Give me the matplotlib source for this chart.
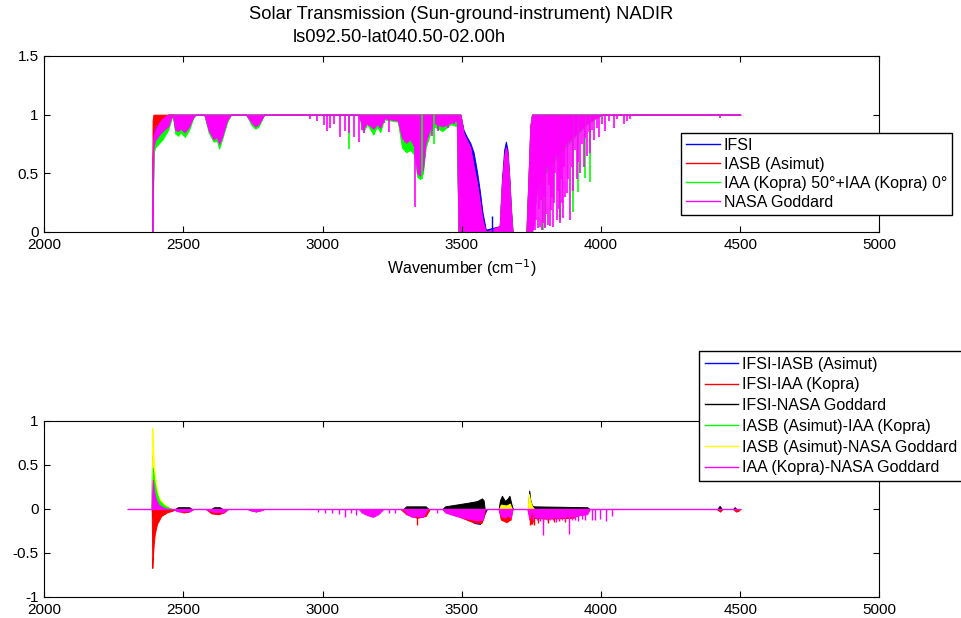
import numpy as np
import matplotlib
matplotlib.use("Agg")
import matplotlib.pyplot as plt

plt.rcParams['font.family'] = ['Liberation Sans', 'DejaVu Sans']

# ---- top panel: transmission, lower/upper edge of the dense line forest ----
top_wn = [2300, 2387, 2389, 2392, 2398, 2410, 2425, 2445, 2455, 2462,
          2470, 2480, 2490, 2505, 2520, 2535, 2545, 2575, 2590, 2608,
          2620, 2628, 2640, 2656, 2670, 2725, 2745, 2758, 2770, 2790,
          3130, 3145, 3160, 3182, 3195, 3207, 3220, 3270, 3285, 3300,
          3315, 3328, 3340, 3350, 3360, 3370, 3385, 3400, 3430, 3460,
          3482, 3488, 3495, 3506, 3518, 3530, 3542, 3554, 3564, 3574,
          3586, 3636, 3644, 3652, 3658, 3664, 3671, 3676, 3682, 3732,
          3740, 3746, 3752, 3770, 3800, 3850, 3900, 3950, 4000, 4500]

ifsi_lo = [0, 0, 0, 0.72, 0.8, 0.84, 0.88, 0.92, 0.97, 1,
           0.88, 0.87, 0.89, 0.86, 0.91, 0.98, 1, 1, 0.88, 0.8,
           0.82, 0.77, 0.83, 0.95, 1, 1, 0.94, 0.91, 0.93, 1,
           1, 0.88, 0.93, 0.88, 0.92, 0.89, 0.97, 0.95, 0.8, 0.77,
           0.8, 0.74, 0.51, 0.49, 0.54, 0.77, 0.88, 0.93, 0.9, 0.93,
           0.95, 0, 0, 0, 0, 0, 0, 0, 0, 0,
           0, 0, 0, 0, 0, 0, 0, 0, 0, 0,
           0, 0, 0, 0.4, 0.55, 0.7, 0.82, 0.93, 1, 1]
ifsi_hi = [0, 0, 0.62, 0.84, 0.88, 0.93, 0.97, 1, 1, 1,
           1, 1, 1, 1, 1, 1, 1, 1, 1, 1,
           1, 1, 1, 1, 1, 1, 1, 1, 1, 1,
           1, 1, 1, 1, 1, 1, 1, 1, 1, 1,
           1, 1, 1, 1, 1, 1, 1, 1, 1, 1,
           1, 1, 1, 0.87, 0.81, 0.76, 0.68, 0.52, 0.36, 0.17,
           0.02, 0.05, 0.45, 0.7, 0.77, 0.7, 0.45, 0.22, 0, 0,
           0.5, 0.9, 1, 1, 1, 1, 1, 1, 1, 1]

iasb_lo = [0, 0, 0, 0.86, 0.9, 0.93, 0.97, 1, 1, 1,
           0.88, 0.87, 0.89, 0.86, 0.91, 0.98, 1, 1, 0.88, 0.8,
           0.82, 0.77, 0.83, 0.95, 1, 1, 0.94, 0.91, 0.93, 1,
           1, 0.88, 0.93, 0.88, 0.92, 0.89, 0.97, 0.95, 0.8, 0.77,
           0.8, 0.74, 0.51, 0.49, 0.54, 0.77, 0.88, 0.93, 0.9, 0.93,
           0.95, 0, 0, 0, 0, 0, 0, 0, 0, 0,
           0, 0, 0, 0, 0, 0, 0, 0, 0, 0,
           0, 0, 0, 0.4, 0.55, 0.7, 0.82, 0.93, 1, 1]
iasb_hi = [0, 0, 0.95, 1, 1, 1, 1, 1, 1, 1,
           1, 1, 1, 1, 1, 1, 1, 1, 1, 1,
           1, 1, 1, 1, 1, 1, 1, 1, 1, 1,
           1, 1, 1, 1, 1, 1, 1, 1, 1, 1,
           1, 1, 1, 1, 1, 1, 1, 1, 1, 1,
           1, 1, 1, 0.84, 0.78, 0.72, 0.56, 0.42, 0.26, 0.1,
           0, 0.05, 0.41, 0.64, 0.72, 0.66, 0.41, 0.18, 0, 0,
           0.5, 0.9, 1, 1, 1, 1, 1, 1, 1, 1]

iaa_lo = [0, 0, 0, 0.66, 0.72, 0.75, 0.79, 0.87, 0.95, 1,
          0.84, 0.82, 0.85, 0.81, 0.87, 0.97, 1, 1, 0.85, 0.77,
          0.78, 0.71, 0.8, 0.93, 1, 1, 0.91, 0.88, 0.9, 1,
          1, 0.85, 0.92, 0.83, 0.9, 0.85, 0.96, 0.94, 0.72, 0.68,
          0.7, 0.66, 0.47, 0.45, 0.5, 0.72, 0.83, 0.9, 0.86, 0.92,
          0.9, 0, 0, 0, 0, 0, 0, 0, 0, 0,
          0, 0, 0, 0, 0, 0, 0, 0, 0, 0,
          0, 0, 0, 0.35, 0.5, 0.66, 0.8, 0.92, 1, 1]
iaa_hi = [0, 0, 0.5, 0.78, 0.82, 0.87, 0.92, 1, 1, 1,
          1, 1, 1, 1, 1, 1, 1, 1, 1, 1,
          1, 1, 1, 1, 1, 1, 1, 1, 1, 1,
          1, 1, 1, 1, 1, 1, 1, 1, 1, 1,
          1, 1, 1, 1, 1, 1, 1, 1, 1, 1,
          1, 1, 1, 0.82, 0.76, 0.7, 0.53, 0.38, 0.22, 0.07,
          0, 0.04, 0.38, 0.6, 0.69, 0.62, 0.38, 0.15, 0, 0,
          0.45, 0.88, 1, 1, 1, 1, 1, 1, 1, 1]

nasa_lo = [0, 0, 0, 0.72, 0.78, 0.82, 0.86, 0.9, 0.97, 1,
           0.87, 0.86, 0.88, 0.85, 0.9, 0.98, 1, 1, 0.87, 0.79,
           0.81, 0.75, 0.82, 0.95, 1, 1, 0.93, 0.9, 0.92, 1,
           1, 0.88, 0.93, 0.88, 0.92, 0.89, 0.97, 0.95, 0.8, 0.76,
           0.79, 0.73, 0.5, 0.48, 0.53, 0.76, 0.88, 0.93, 0.9, 0.93,
           0.95, 0, 0, 0, 0, 0, 0, 0, 0, 0,
           0, 0, 0, 0, 0, 0, 0, 0, 0, 0,
           0, 0, 0, 0.4, 0.55, 0.7, 0.82, 0.93, 1, 1]
nasa_hi = [0, 0, 0.55, 0.82, 0.87, 0.92, 0.97, 1, 1, 1,
           1, 1, 1, 1, 1, 1, 1, 1, 1, 1,
           1, 1, 1, 1, 1, 1, 1, 1, 1, 1,
           1, 1, 1, 1, 1, 1, 1, 1, 1, 1,
           1, 1, 1, 1, 1, 1, 1, 1, 1, 1,
           1, 1, 1, 0.84, 0.78, 0.72, 0.56, 0.42, 0.26, 0.1,
           0, 0.05, 0.41, 0.64, 0.72, 0.66, 0.41, 0.18, 0, 0,
           0.5, 0.9, 1, 1, 1, 1, 1, 1, 1, 1]

# single absorption lines (position, minimum transmission)
nasa_lines_wn = [2955, 2979, 3003, 3015, 3025, 3039, 3063, 3081, 3093, 3111,
                 3129, 3141, 3147, 3165, 3219, 3237, 3255, 3333, 3375, 3393,
                 3416, 3434, 3452, 3470,
                 3756, 3760, 3764, 3768, 3772, 3776, 3780, 3784, 3788, 3792,
                 3796, 3800, 3804, 3808, 3812, 3816, 3820, 3824, 3828, 3832,
                 3836, 3840, 3844, 3848, 3852, 3856, 3860, 3864, 3868, 3872,
                 3877, 3883, 3889, 3895, 3901, 3907, 3913, 3919, 3925, 3931,
                 3937, 3943, 3949, 3955, 3961, 3967, 3973, 3985, 3991, 4003,
                 4015, 4027, 4045, 4057, 4081, 4093, 4105, 4428]
nasa_lines_min = [0.96, 0.95, 0.91, 0.86, 0.89, 0.92, 0.81, 0.86, 0.84, 0.81,
                  0.77, 0.87, 0.84, 0.9, 0.93, 0.85, 0.95, 0.21, 0.84, 0.82,
                  0.86, 0.94, 0.89, 0.92,
                  0.02, 0.05, 0.02, 0.1, 0.03, 0.2, 0.04, 0.27, 0.02, 0.08,
                  0.3, 0.03, 0.15, 0.06, 0.4, 0.05, 0.19, 0.3, 0.04, 0.25,
                  0.5, 0.1, 0.35, 0.2, 0.08, 0.45, 0.25, 0.12, 0.55, 0.3,
                  0.33, 0.45, 0.1, 0.55, 0.35, 0.7, 0.45, 0.6, 0.5, 0.75,
                  0.55, 0.8, 0.65, 0.85, 0.67, 0.87, 0.78, 0.89, 0.81, 0.92,
                  0.86, 0.95, 0.89, 0.96, 0.92, 0.95, 0.96, 0.97]
iaa_lines_wn = [3093, 3357, 3399, 3791, 3800, 3853, 3901, 3919, 3943, 3961]
iaa_lines_min = [0.71, 0.45, 0.75, 0.02, 0.04, 0.1, 0.17, 0.34, 0.46, 0.43]
ifsi_lines_wn = [3608]
ifsi_lines_max = [0.14]

# ---- bottom panel: differences ----
bl_wn = [2300, 2386, 2388, 2390, 2395, 2410, 2430, 2450, 2460, 3480,
         3500, 3520, 3545, 3565, 3578, 3590, 4500]
bl_val = [0, 0, -0.10, -0.06, -0.04, -0.03, -0.03, -0.02, 0, 0,
          -0.05, -0.1, -0.16, -0.17, -0.08, 0, 0]

rd_wn = [2300, 2386, 2388, 2390, 2393, 2397, 2405, 2420, 2440, 2460,
         2475, 2480, 2500, 2520, 2535, 2580, 2600, 2625, 2645, 2660,
         2730, 2760, 2790, 3280, 3300, 3340, 3370, 3385, 3430, 3450,
         3500, 3540, 3570, 3578, 3584, 3632, 3640, 3660, 3675, 3682,
         3735, 3750, 3760, 3800, 3900, 3960, 4415, 4428, 4436, 4474,
         4485, 4494, 4500]
rd_val = [0, 0, -0.67, -0.55, -0.40, -0.28, -0.17, -0.08, -0.04, -0.02,
          0, -0.02, -0.04, -0.03, 0, 0, -0.05, -0.06, -0.04, 0,
          0, -0.03, 0, 0, -0.06, -0.1, -0.08, 0, 0, -0.04,
          -0.1, -0.15, -0.16, -0.1, 0, 0, -0.12, -0.15, -0.12, 0,
          0, -0.17, -0.1, -0.11, -0.1, 0, 0, -0.03, 0, 0,
          -0.03, -0.02, 0]
rd_lines_wn = [3338, 3745, 3752, 3760, 3775, 3790, 3810, 3830, 3850, 3870]
rd_lines_val = [-0.18, -0.18, -0.17, -0.18, -0.16, -0.15, -0.16, -0.15, -0.14, -0.15]

bk_wn = [2300, 2385, 2386, 2387, 2389, 2392, 2470, 2480, 2520, 2530,
         2600, 2610, 2630, 2640, 3290, 3300, 3370, 3380, 3430, 3440,
         3480, 3520, 3555, 3572, 3578, 3582, 3632, 3637, 3644, 3655,
         3665, 3671, 3680, 3684, 3738, 3742, 3746, 3752, 3760, 3950,
         3960, 4418, 4426, 4434, 4474, 4480, 4486, 4500]
bk_val = [0, 0, 0.2, 0.6, 0.3, 0, 0, 0.02, 0.02, 0,
          0, 0.02, 0.02, 0, 0, 0.03, 0.03, 0, 0, 0.03,
          0.05, 0.07, 0.09, 0.12, 0.1, 0, 0, 0.1, 0.15, 0.09,
          0.12, 0.15, 0.03, 0, 0, 0.21, 0.1, 0.04, 0.03, 0.02,
          0, 0, 0.035, 0, 0, 0.02, 0, 0]

gr_wn = [2300, 2386, 2388, 2390, 2395, 2402, 2412, 2430, 2450, 2460, 4500]
gr_val = [0, 0, 0.2, 0.47, 0.32, 0.2, 0.1, 0.04, 0.01, 0, 0]

yl_wn = [2300, 2386, 2387, 2388, 2390, 2393, 2397, 2403, 2410, 2420,
         2430, 2445, 2460, 3634, 3640, 3660, 3672, 3680, 3736, 3741,
         3745, 3752, 3760, 4500]
yl_val = [0, 0, 0.5, 0.92, 0.75, 0.55, 0.39, 0.25, 0.14, 0.09,
          0.06, 0.02, 0, 0, 0.05, 0.04, 0.06, 0, 0, 0.17,
          0.1, 0.03, 0, 0]

mg_wn = [2300, 2386, 2388, 2390, 2394, 2400, 2410, 2425, 2440, 2465,
         2475, 2490, 2505, 2520, 2535, 2580, 2595, 2610, 2625, 2640,
         2660, 2730, 2745, 2760, 2775, 2790, 3130, 3140, 3160, 3180,
         3200, 3218, 3290, 3300, 3320, 3340, 3360, 3376, 3430, 3440,
         3480, 3520, 3560, 3575, 3580, 3632, 3640, 3655, 3665, 3675,
         3682, 3736, 3742, 3748, 3755, 3760, 3800, 3850, 3900, 3950,
         3960, 4500]
mg_val = [0, 0, 0.2, 0.33, 0.2, 0.12, 0.05, 0.02, 0, 0,
          -0.025, -0.03, -0.02, -0.03, 0, 0, -0.02, -0.035, -0.03, -0.04,
          0, 0, -0.02, -0.025, -0.02, 0, 0, -0.04, -0.07, -0.09,
          -0.06, 0, 0, -0.05, -0.09, -0.08, -0.09, 0, 0, -0.04,
          -0.08, -0.11, -0.13, -0.12, 0, 0, -0.08, -0.1, -0.07, -0.1,
          0, 0, -0.12, -0.05, -0.02, -0.09, -0.1, -0.09, -0.08, -0.06,
          0, 0]
mg_lines_wn = [2985, 3010, 3035, 3060, 3080, 3100, 3120, 3240, 3260, 3410,
               3755, 3770, 3780, 3791, 3805, 3815, 3826, 3838, 3850, 3860,
               3870, 3886, 3896, 3906, 3918, 3930, 3943, 3967, 3979, 3997,
               4019, 4039]
mg_lines_val = [-0.03, -0.04, -0.05, -0.06, -0.09, -0.05, -0.07, -0.04, -0.05, -0.04,
                -0.12, -0.13, -0.14, -0.3, -0.13, -0.12, -0.13, -0.15, -0.13, -0.12,
                -0.13, -0.28, -0.12, -0.13, -0.14, -0.11, -0.13, -0.12, -0.13, -0.11,
                -0.14, -0.08]

fig = plt.figure(figsize=(9.61, 6.18), dpi=100)
ax1 = fig.add_axes([0.0461, 0.6246, 0.869, 0.2848])
ax2 = fig.add_axes([0.0461, 0.034, 0.869, 0.2848])

lw = 0.7
c_b, c_r, c_g, c_m = '#0000ff', '#ff0000', '#00ff00', '#ff00ff'

for lo, hi, c in [(ifsi_lo, ifsi_hi, c_b), (iasb_lo, iasb_hi, c_r),
                  (iaa_lo, iaa_hi, c_g), (nasa_lo, nasa_hi, c_m)]:
    ax1.fill_between(top_wn, lo, hi, color=c, linewidth=lw)
    if c == c_g:
        ax1.vlines(iaa_lines_wn, iaa_lines_min, 1, color=c_g, linewidth=1.2)
    if c == c_b:
        ax1.vlines(ifsi_lines_wn, 0, ifsi_lines_max, color=c_b, linewidth=1)
ax1.vlines(nasa_lines_wn, nasa_lines_min, 1, color=c_m, linewidth=1.2)

h1 = [plt.Line2D([], [], color=c, lw=1) for c in (c_b, c_r, c_g, c_m)]
ax1.legend(h1, ['IFSI', 'IASB (Asimut)', 'IAA (Kopra) 50°+IAA (Kopra) 0°', 'NASA Goddard'],
           loc='upper left', bbox_to_anchor=(0.763, 0.5625), borderaxespad=0,
           fancybox=False, framealpha=1, edgecolor='black', fontsize=11.5,
           handlelength=2.1, handletextpad=0.25, labelspacing=0.25, borderpad=0.3)

# bottom panel
series = [(bl_wn, bl_val, c_b, 2), (rd_wn, rd_val, c_r, 3), (bk_wn, bk_val, 'black', 4),
          (yl_wn, yl_val, '#ffff00', 5), (gr_wn, gr_val, c_g, 6), (mg_wn, mg_val, c_m, 7)]
for wn, val, c, z in series:
    ax2.fill_between(wn, 0, val, color=c, linewidth=lw, zorder=z)
ax2.vlines(rd_lines_wn, 0, rd_lines_val, color=c_r, linewidth=1, zorder=3)
ax2.vlines(mg_lines_wn, 0, mg_lines_val, color=c_m, linewidth=1, zorder=7)
ax2.plot([2300, 4500], [0, 0], color=c_m, lw=1, zorder=8)

h2 = [plt.Line2D([], [], color=c, lw=1) for c in (c_b, c_r, 'black', c_g, '#ffff00', c_m)]
ax2.legend(h2, ['IFSI-IASB (Asimut)', 'IFSI-IAA (Kopra)', 'IFSI-NASA Goddard',
                'IASB (Asimut)-IAA (Kopra)', 'IASB (Asimut)-NASA Goddard',
                'IAA (Kopra)-NASA Goddard'],
           loc='upper left', bbox_to_anchor=(0.784, 1.398), borderaxespad=0,
           fancybox=False, framealpha=1, edgecolor='black', fontsize=11.5,
           handlelength=2.1, handletextpad=0.25, labelspacing=0.36, borderpad=0.35)

for ax in (ax1, ax2):
    ax.set_xlim(2000, 5000)
    ax.set_xticks(np.arange(2000, 5001, 500))
    ax.tick_params(direction='in', top=True, right=True, length=4, labelsize=11, pad=4)
    for s in ax.spines.values():
        s.set_linewidth(0.8)
ax1.set_ylim(0, 1.5)
ax1.set_yticks([0, 0.5, 1, 1.5])
ax1.set_yticklabels(['0', '0.5', '1', '1.5'])
ax2.set_ylim(-1, 1)
ax2.set_yticks([-1, -0.5, 0, 0.5, 1])
ax2.set_yticklabels(['-1', '-0.5', '0', '0.5', '1'])
ax1.set_xlabel('Wavenumber (cm$^{-1}$)', fontsize=11.5, labelpad=4)

fig.text(0.48, 0.976, 'Solar Transmission (Sun-ground-instrument) NADIR', ha='center', va='center', fontsize=13.2)
fig.text(0.415, 0.94, 'ls092.50-lat040.50-02.00h', ha='center', va='center', fontsize=13.2)

fig.savefig('out.png', dpi=100)
